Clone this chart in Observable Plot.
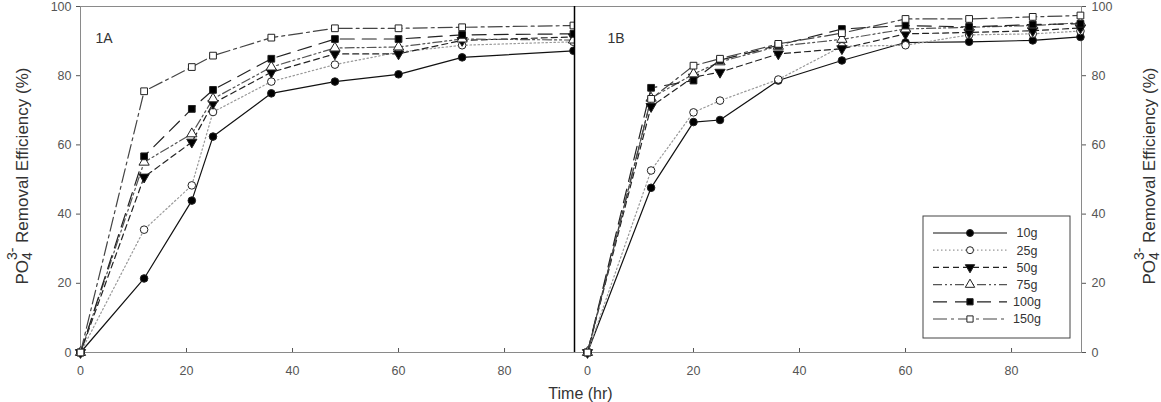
<!DOCTYPE html>
<html><head><meta charset="utf-8">
<script src="https://cdn.jsdelivr.net/npm/d3@7"></script>
<script src="https://cdn.jsdelivr.net/npm/@observablehq/plot@0.6"></script>
<style>
html,body{margin:0;padding:0;background:#fff;}
#wrap{position:relative;width:1161px;height:402px;overflow:hidden;font-family:"Liberation Sans",Arial,sans-serif;}
#wrap svg{position:absolute;top:0;}
#xlabel{position:absolute;left:0;width:1161px;top:386px;line-height:16px;text-align:center;font-size:16px;color:#333;font-family:"Liberation Sans",Arial,sans-serif;}
</style></head><body><div id="wrap"><div id="xlabel">Time (hr)</div></div>
<script>
const series = ["10g","25g","50g","75g","100g","150g"];
const timesA = [0,12,21,25,36,48,60,72,93];
const timesB = [0,12,20,25,36,48,60,72,84,93];
const A_10g  = [0,21.4,43.9,62.4,74.9,78.3,80.4,85.3,87.2];
const A_25g  = [0,35.5,48.3,69.5,78.3,83.2,86.8,88.8,89.8];
const A_50g  = [0,50.7,60.8,72.0,81.0,86.3,86.3,90.2,91.2];
const A_75g  = [0,55.0,63.2,73.3,82.5,88.0,88.3,90.6,90.3];
const A_100g = [0,56.7,70.4,75.9,84.9,90.6,90.6,91.8,92.1];
const A_150g = [0,75.5,82.5,85.8,91.0,93.7,93.7,94.0,94.5];
const B_10g  = [0,47.6,66.6,67.2,78.6,84.4,89.6,89.8,90.2,91.2];
const B_25g  = [0,52.6,69.4,72.8,78.9,88.5,88.8,91.8,92.1,92.9];
const B_50g  = [0,71.1,79.6,81.0,86.3,87.8,92.1,92.5,93.0,93.8];
const B_75g  = [0,73.5,80.5,84.0,88.5,90.5,93.5,94.0,94.5,95.3];
const B_100g = [0,76.5,78.6,84.5,88.8,93.5,94.5,94.1,94.8,95.0];
const B_150g = [0,73.3,82.9,84.9,89.2,92.3,96.4,96.4,97.0,97.4];
const xTicks = [0,20,40,60,80];
const yTicks = [0,20,40,60,80,100];
const xMax = 93.2, xMinB = -2.45;

const seriesA = [A_10g,A_25g,A_50g,A_75g,A_100g,A_150g];
const seriesB = [B_10g,B_25g,B_50g,B_75g,B_100g,B_150g];
function table(times, arrs){
  const out = [];
  arrs.forEach((arr,si)=>arr.forEach((v,i)=>out.push({series: series[si], t: times[i], v})));
  return out;
}
const dataA = table(timesA, seriesA);
const dataB = table(timesB, seriesB);

const sqrt3 = Math.sqrt(3);
const triangleDown = {draw(ctx, size){ const y = -Math.sqrt(size/(sqrt3*3)); ctx.moveTo(0,-y*2); ctx.lineTo(-sqrt3*y,y); ctx.lineTo(sqrt3*y,y); ctx.closePath(); }};
const styles = {
  "10g":  {dash: null, stroke: "#111", sym: "circle", fill: "#000", d3sym: d3.symbolCircle},
  "25g":  {dash: "1.5,2.5", stroke: "#999", sym: "circle", fill: "#fff", d3sym: d3.symbolCircle},
  "50g":  {dash: "6,4", stroke: "#222", sym: triangleDown, fill: "#000", d3sym: triangleDown},
  "75g":  {dash: "9,3,2,3,2,3", stroke: "#555", sym: "triangle", fill: "#fff", d3sym: d3.symbolTriangle},
  "100g": {dash: "14,8", stroke: "#222", sym: "square", fill: "#000", d3sym: d3.symbolSquare},
  "150g": {dash: "14,4,3,4", stroke: "#444", sym: "square", fill: "#fff", d3sym: d3.symbolSquare}
};
function seriesMarks(data){
  const m = [];
  for (const s of series){
    const st = styles[s];
    const d = data.filter(r => r.series === s);
    m.push(Plot.line(d, {x: "t", y: "v", stroke: st.stroke, strokeWidth: 1.2, strokeDasharray: st.dash}));
  }
  for (const s of series){
    const st = styles[s];
    const d = data.filter(r => r.series === s);
    m.push(Plot.dot(d, {x: "t", y: "v", symbol: st.sym, r: 3.8, fill: st.fill, stroke: "#222", strokeWidth: 1}));
  }
  return m;
}
const font = '"Liberation Sans", Arial, sans-serif';
const common = {height: 402, marginTop: 6, marginBottom: 50,
  style: {background: "transparent", fontFamily: font, fontSize: "12.5px", color: "#555"},
  y: {domain: [0,100]}};

const p1 = Plot.plot({...common, width: 574, marginLeft: 80, marginRight: 0,
  x: {domain: [0, xMax]},
  marks: [
    Plot.frame({stroke: "#8a8a8a"}),
    Plot.axisY({ticks: yTicks, tickSize: 4, tickPadding: 5, label: null}),
    Plot.axisX({ticks: xTicks, tickSize: -4, tickPadding: 18, label: null}),
    ...seriesMarks(dataA),
    Plot.text(["1A"], {frameAnchor: "top-left", dx: 15, dy: 27, textAnchor: "start", fontSize: 14, fill: "#333"})
  ]});
const p2 = Plot.plot({...common, width: 588, marginLeft: 1, marginRight: 80,
  x: {domain: [xMinB, xMax]},
  marks: [
    Plot.frame({stroke: "#8a8a8a"}),
    Plot.ruleX([xMinB], {stroke: "#000", strokeWidth: 1.5}),
    Plot.axisY({anchor: "right", ticks: yTicks, tickSize: 4, tickPadding: 6, label: null}),
    Plot.axisX({ticks: xTicks, tickSize: -4, tickPadding: 18, label: null}),
    ...seriesMarks(dataB),
    Plot.text(["1B"], {frameAnchor: "top-left", dx: 33, dy: 27, textAnchor: "start", fontSize: 14, fill: "#333"})
  ]});
const wrap = document.getElementById("wrap");
p1.style.left = "0px"; p2.style.left = "573px";
wrap.appendChild(p1); wrap.appendChild(p2);

function yLabel(svg, x, y){
  const t = d3.select(svg).append("text")
    .attr("transform", `translate(${x},${y}) rotate(-90)`)
    .attr("text-anchor", "middle").attr("font-size", 17).attr("fill", "#333")
    .attr("font-family", font);
  t.append("tspan").text("PO");
  t.append("tspan").attr("font-size", 14).attr("dy", 4).text("4");
  t.append("tspan").attr("font-size", 14).attr("dx", -8).attr("dy", -15).text("3-");
  t.append("tspan").attr("dy", 11).text(" Removal Efficiency (%)");
}
yLabel(p1, 28, 176);
yLabel(p2, 1155 - 573, 176);

// legend
const lg = d3.select(p2).append("g").attr("font-family", font).attr("font-size", 12.5);
const lx = 923 - 573;
lg.append("rect").attr("x", lx).attr("y", 216).attr("width", 147).attr("height", 122)
  .attr("fill", "#fff").attr("stroke", "#444").attr("stroke-width", 1);
series.forEach((s, i) => {
  const st = styles[s];
  const yy = 233 + i * 17.2;
  lg.append("line").attr("x1", lx + 10).attr("x2", lx + 84).attr("y1", yy).attr("y2", yy)
    .attr("stroke", st.stroke).attr("stroke-width", 1.2).attr("stroke-dasharray", st.dash);
  lg.append("path").attr("transform", `translate(${lx + 47},${yy})`)
    .attr("d", d3.symbol(st.d3sym, Math.PI * 3.5 * 3.5)())
    .attr("fill", st.fill).attr("stroke", "#222");
  lg.append("text").attr("x", lx + 104).attr("y", yy).attr("dy", "0.35em").attr("fill", "#333").text(s);
});
</script></body></html>
